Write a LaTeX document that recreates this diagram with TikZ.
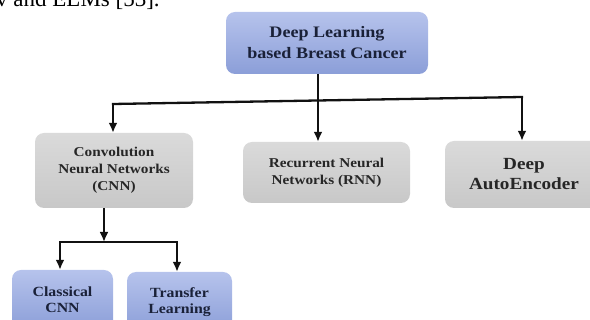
\documentclass[tikz,border=0pt]{standalone}
\usepackage{fontspec}
\setmainfont{Liberation Serif}
\newfontfamily\wideserif[FakeStretch=1.13]{Liberation Serif}
\usetikzlibrary{arrows.meta}
\definecolor{blueT}{HTML}{B6C3EC}
\definecolor{blueB}{HTML}{8B9ED8}
\definecolor{grayT}{HTML}{DADADA}
\definecolor{grayB}{HTML}{C8C8C8}
\definecolor{navy}{HTML}{1A2138}
\definecolor{darktext}{HTML}{262626}
\definecolor{linec}{HTML}{111111}
\tikzset{
  box/.style={rounded corners=9pt, draw=none, inner sep=0pt, align=center},
  bluebox/.style={box, top color=blueT, bottom color=blueB, text=navy},
  graybox/.style={box, top color=grayT, bottom color=grayB, text=darktext},
  link/.style={draw=linec, line width=2.3pt},
  arr/.style={link, -{Latex[length=10pt,width=9pt]}},
  bigfont/.style={font=\wideserif\bfseries\fontsize{16}{21}\selectfont},
  midfont/.style={font=\wideserif\bfseries\fontsize{13.5}{17}\selectfont},
  aefont/.style={font=\wideserif\bfseries\fontsize{17}{20}\selectfont},
  lowfont/.style={font=\wideserif\bfseries\fontsize{14}{16}\selectfont},
}
\begin{document}
\begin{tikzpicture}[x=1pt,y=-1pt]
\useasboundingbox (0,0) rectangle (590,320);
\clip (0,0) rectangle (590,320);
% clipped line of running text above the figure
\node[anchor=base west, inner sep=0pt, font=\fontsize{23}{23}\selectfont] (runtext) at (-4,7) {v and ELMs [53].};
% boxes
\node[bluebox, bigfont, minimum width=202pt, minimum height=62pt] (root) at (327,43) {Deep Learning\\based Breast Cancer};
\node[graybox, midfont, minimum width=158pt, minimum height=75pt] (cnn) at (114,170.5) {Convolution\\Neural Networks\\(CNN)};
\node[graybox, midfont, minimum width=167pt, minimum height=61pt] (rnn) at (326.5,172.5) {Recurrent Neural\\Networks (RNN)};
\node[graybox, aefont, minimum width=158pt, minimum height=67pt] (ae) at (524,174.5) {Deep\\AutoEncoder};
\node[bluebox, lowfont, minimum width=101pt, minimum height=60pt] (classical) at (62.5,300) {Classical\\CNN};
\node[bluebox, lowfont, minimum width=105pt, minimum height=60pt] (transfer) at (179.5,302) {Transfer\\Learning};
% junctions
\coordinate (jL) at (113,104);
\coordinate (jR) at (522,97);
\coordinate (jM) at (318,100.5);
\coordinate (bM) at (104,242);
\coordinate (bL) at (60,242);
\coordinate (bR) at (177,242);
% connectors
\draw[link] (root.south -| jM) -- (jM);
\draw[link, line cap=rect] (jL) -- (jR);
\draw[arr] (jL) -- (jL |- cnn.north);
\draw[arr] (jM) -- (jM |- rnn.north);
\draw[arr] (jR) -- (jR |- ae.north);
\draw[arr] (cnn.south -| bM) -- (bM);
\draw[link, line cap=rect] (bL) -- (bR);
\draw[arr] (bL) -- (bL |- classical.north);
\draw[arr] (bR) -- (bR |- transfer.north);
\end{tikzpicture}
\end{document}
